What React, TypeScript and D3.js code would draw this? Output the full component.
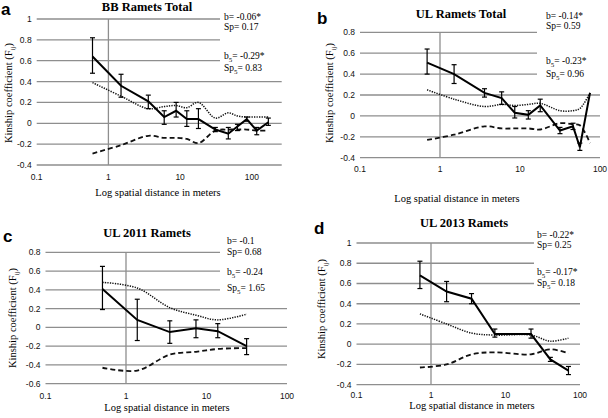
import React from "react";
import * as d3 from "d3";

// distance classes (m), mean kinship, error bars and 95% envelopes
const aDist = [0.6, 1.5, 3.6, 6, 8.8, 12.4, 18, 31, 47, 63, 85, 117, 170];
const aF = [0.64, 0.36, 0.21, 0.06, 0.12, 0.04, 0.04, -0.06, -0.1, -0.03, 0.04, -0.07, 0.01];
const aHi = [0.82, 0.47, 0.27, 0.12, 0.2, 0.12, 0.14, -0.04, -0.04, -0.01, 0.06, -0.04, 0.05];
const aLo = [0.48, 0.25, 0.14, -0.01, 0.06, -0.03, -0.05, -0.08, -0.15, -0.07, 0.02, -0.11, -0.02];
const aUpper = [0.39, 0.26, 0.14, 0.16, 0.17, 0.15, 0.2, 0.05, 0.1, 0.07, 0.06, 0.06, 0.06];
const aLower = [-0.29, -0.21, -0.12, -0.14, -0.14, -0.15, -0.19, -0.07, -0.06, -0.06, -0.06, -0.07, -0.07];

const bDist = [0.69, 1.5, 3.6, 5.9, 8.6, 12.7, 17.9, 31.6, 46, 56, 75];
const bF = [0.51, 0.4, 0.22, 0.17, 0.03, 0.01, 0.1, -0.14, -0.1, -0.3, 0.22];
const bHi = [0.64, 0.49, 0.26, 0.23, 0.09, 0.05, 0.16, -0.11, -0.07, -0.26, null];
const bLo = [0.4, 0.31, 0.18, 0.11, -0.02, -0.03, 0.04, -0.17, -0.13, -0.33, null];
const bUpper = [0.25, 0.16, 0.09, 0.11, 0.1, 0.11, 0.12, 0.05, 0.05, 0.07, 0.22];
const bLower = [-0.23, -0.18, -0.1, -0.12, -0.12, -0.12, -0.13, -0.07, -0.08, -0.09, -0.26];

const cDist = [0.51, 1.38, 3.5, 7.4, 13.8, 31.5];
const cF = [0.41, 0.08, -0.05, -0.01, -0.04, -0.2];
const cHi = [0.65, 0.3, 0.07, 0.08, 0.04, -0.12];
const cLo = [0.19, -0.14, -0.17, -0.11, -0.11, -0.29];
const cUpper = [0.48, 0.42, 0.21, 0.13, 0.08, 0.14];
const cLower = [-0.43, -0.46, -0.29, -0.26, -0.23, -0.22];

const dDist = [0.71, 1.62, 3.5, 7.2, 22, 40, 70];
const dF = [0.68, 0.52, 0.45, 0.1, 0.1, -0.15, -0.26];
const dHi = [0.82, 0.62, 0.5, 0.15, 0.15, -0.13, -0.22];
const dLo = [0.55, 0.42, 0.4, 0.07, 0.06, -0.17, -0.3];
const dUpper = [0.3, 0.2, 0.11, 0.09, 0.09, 0.03, 0.06];
const dLower = [-0.23, -0.2, -0.1, -0.08, -0.1, -0.05, -0.09];

const xTickValues = [0.1, 1, 10, 100];

const titles = ["BB Ramets Total", "UL Ramets Total", "UL 2011 Ramets", "UL 2013 Ramets"];
const panelLetters = ["a", "b", "c", "d"];
const stats = [
  ["-0.06*", "0.17", "-0.29*", "0.83"],
  ["-0.14*", "0.59", "-0.23*", "0.96"],
  ["-0.1", "0.68", "-0.24", "1.65"],
  ["-0.22*", "0.25", "-0.17*", "0.18"],
];

// layout of each panel in page pixels
const layouts = [
  { xr: [36.7, 281.7], xmax: 261, yd: [-0.4, 1], yr: [165, 19], tickDy: 15, title: [147, 10.5], letter: [1, 15], ytitle: [8, 93], xtitle: [158, 196], box: [220, 10, 62, 68], ann: [224, 20, 30, 59, 71] },
  { xr: [360, 600], xmax: 100, yd: [-0.4, 0.8], yr: [157.7, 32.3], tickDy: 14, title: [461, 18], letter: [317, 24], ytitle: [329, 93], xtitle: [457, 202], box: [537, 14, 63, 68], ann: [546, 19, 29, 64, 77] },
  { xr: [45.5, 287], xmax: 100, yd: [-0.6, 0.8], yr: [383.7, 252.3], tickDy: 15, title: [147, 237], letter: [3, 242], ytitle: [12, 318], xtitle: [167, 411], box: [220, 236, 67, 62], ann: [227, 244, 255, 275, 291] },
  { xr: [356.5, 580], xmax: 100, yd: [-0.4, 1], yr: [384.7, 243], tickDy: 13, title: [464, 227], letter: [314, 234], ytitle: [321, 309], xtitle: [472, 409], box: [534, 232, 46, 60], ann: [537, 238, 248, 275, 286] },
];

const grid = "#8e8e8e";
const serif = "'Liberation Serif', 'DejaVu Serif', serif";
const sans = "'Liberation Sans', Arial, sans-serif";

type Series = {
  dist: number[];
  f: number[];
  hi: (number | null)[];
  lo: (number | null)[];
  upper: number[];
  lower: number[];
};

const series: Series[] = [
  { dist: aDist, f: aF, hi: aHi, lo: aLo, upper: aUpper, lower: aLower },
  { dist: bDist, f: bF, hi: bHi, lo: bLo, upper: bUpper, lower: bLower },
  { dist: cDist, f: cF, hi: cHi, lo: cLo, upper: cUpper, lower: cLower },
  { dist: dDist, f: dF, hi: dHi, lo: dLo, upper: dUpper, lower: dLower },
];

const Panel = ({ i }: { i: number }) => {
  const L = layouts[i];
  const s = series[i];
  const x = d3.scaleLog().domain([0.1, L.xmax]).range(L.xr);
  const y = d3.scaleLinear().domain(L.yd).range(L.yr);
  const yTicks = d3
    .range(Math.round(L.yd[0] * 10), Math.round(L.yd[1] * 10) + 1, 2)
    .map((v) => v / 10);

  const pts = (vals: number[]) => s.dist.map((d, k) => [x(d), y(vals[k])] as [number, number]);
  const straight = d3.line();
  const smooth = d3.line().curve(d3.curveCatmullRom.alpha(0.5));
  const [bx, by, bw, bh] = L.box;
  const [ax, b1, b2, b3, b4] = L.ann;
  const st = stats[i];

  return (
    <g>
      {yTicks.map((t) => (
        <g key={t}>
          <line x1={L.xr[0]} x2={L.xr[1]} y1={y(t)} y2={y(t)} stroke={grid} strokeWidth={1.3} />
          <text x={L.xr[0] - 5} y={y(t) + 3} textAnchor="end" fontFamily={sans} fontSize={8.5} fill="#111">
            {String(t)}
          </text>
        </g>
      ))}
      <line x1={x(1)} x2={x(1)} y1={L.yr[0]} y2={L.yr[1]} stroke={grid} strokeWidth={1.3} />
      {xTickValues.map((t) => (
        <text key={t} x={x(t)} y={L.yr[0] + L.tickDy} textAnchor="middle" fontFamily={sans} fontSize={8.5} fill="#111">
          {String(t)}
        </text>
      ))}
      <rect x={bx} y={by} width={bw} height={bh} fill="#fff" />

      <path d={smooth(pts(s.upper)) || ""} fill="none" stroke="#111" strokeWidth={1.5} strokeDasharray="1.3,1.2" />
      <path d={smooth(pts(s.lower)) || ""} fill="none" stroke="#111" strokeWidth={1.8} strokeDasharray="5,3" />
      <path d={straight(pts(s.f)) || ""} fill="none" stroke="#000" strokeWidth={2} />
      {s.dist.map((d, k) =>
        s.hi[k] == null ? null : (
          <g key={k} stroke="#000" strokeWidth={1.2}>
            <line x1={x(d)} x2={x(d)} y1={y(s.hi[k] as number)} y2={y(s.lo[k] as number)} />
            <line x1={x(d) - 2.5} x2={x(d) + 2.5} y1={y(s.hi[k] as number)} y2={y(s.hi[k] as number)} />
            <line x1={x(d) - 2.5} x2={x(d) + 2.5} y1={y(s.lo[k] as number)} y2={y(s.lo[k] as number)} />
          </g>
        )
      )}

      <text x={L.title[0]} y={L.title[1]} textAnchor="middle" fontFamily={serif} fontWeight="bold" fontSize={12.5}>
        {titles[i]}
      </text>
      <text x={L.letter[0]} y={L.letter[1]} fontFamily={sans} fontWeight="bold" fontSize={17}>
        {panelLetters[i]}
      </text>
      <text
        transform={`translate(${L.ytitle[0] + 4},${L.ytitle[1]}) rotate(-90)`}
        textAnchor="middle"
        fontFamily={serif}
        fontSize={10.5}
      >
        Kinship coefficient (F
        <tspan fontSize={7} dy={2.5}>ij</tspan>
        <tspan dy={-2.5}>)</tspan>
      </text>
      <text x={L.xtitle[0]} y={L.xtitle[1]} textAnchor="middle" fontFamily={serif} fontSize={10.5}>
        Log spatial distance in meters
      </text>

      <g fontFamily={serif} fontSize={9.5}>
        <text x={ax} y={b1}>{`b= ${st[0]}`}</text>
        <text x={ax} y={b2}>{`Sp= ${st[1]}`}</text>
        <text x={ax} y={b3}>
          b<tspan fontSize={7} dy={2.5}>5</tspan>
          <tspan dy={-2.5}>{`= ${st[2]}`}</tspan>
        </text>
        <text x={ax} y={b4}>
          Sp<tspan fontSize={7} dy={2.5}>5</tspan>
          <tspan dy={-2.5}>{`= ${st[3]}`}</tspan>
        </text>
      </g>
    </g>
  );
};

export default function App() {
  return (
    <svg
      width={608}
      height={418}
      style={{ position: "absolute", left: 0, top: 0, display: "block", background: "#fff" }}
    >
      {[0, 1, 2, 3].map((i) => (
        <Panel key={i} i={i} />
      ))}
    </svg>
  );
}
